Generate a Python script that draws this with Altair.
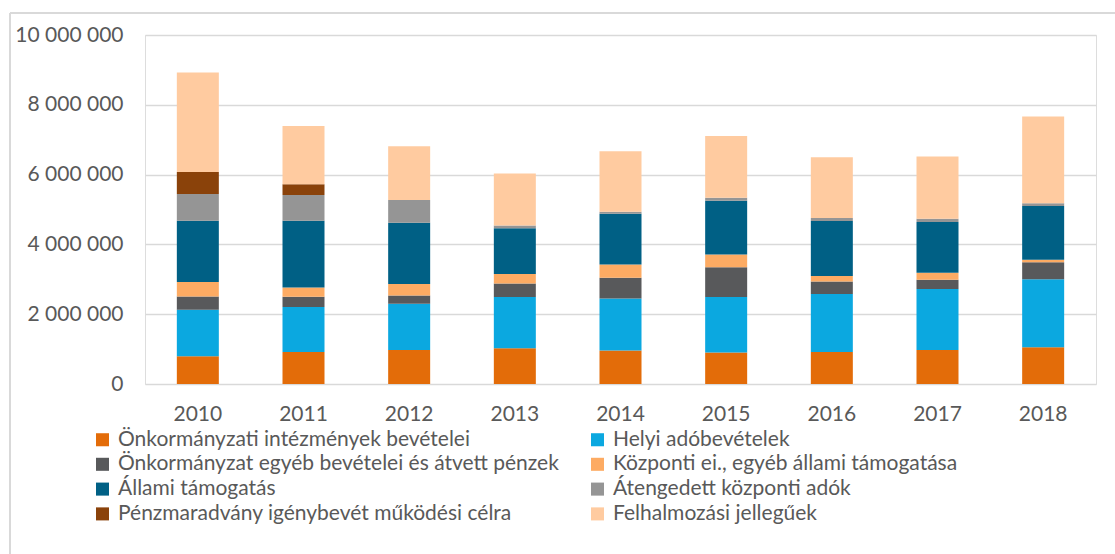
import altair as alt
import pandas as pd

years = ["2010", "2011", "2012", "2013", "2014", "2015", "2016", "2017", "2018"]

series_names = [
    "Önkormányzati intézmények bevételei",
    "Helyi adóbevételek",
    "Önkormányzat egyéb bevételei és átvett pénzek",
    "Központi ei., egyéb állami támogatása",
    "Állami támogatás",
    "Átengedett központi adók",
    "Pénzmaradvány igénybevét működési célra",
    "Felhalmozási jellegűek",
]

onkorm_intezmenyek = [794000, 920000, 977000, 1023000, 957000, 900000, 920000, 977000, 1051000]
helyi_ado = [1335000, 1286000, 1323000, 1469000, 1494000, 1591000, 1657000, 1743000, 1954000]
onkorm_egyeb = [380000, 294000, 237000, 389000, 591000, 857000, 360000, 266000, 486000]
kozponti_ei = [411000, 266000, 326000, 269000, 380000, 360000, 154000, 200000, 66000]
allami_tamogatas = [1760000, 1914000, 1760000, 1314000, 1457000, 1543000, 1580000, 1457000, 1543000]
atengedett_adok = [763000, 734000, 649000, 74000, 57000, 86000, 86000, 94000, 77000]
penzmaradvany = [628000, 306000, 0, 0, 0, 0, 0, 0, 0]
felhalmozasi = [2857000, 1674000, 1543000, 1497000, 1734000, 1771000, 1743000, 1783000, 2486000]

colors = ["#E36C09", "#0BA8E0", "#58595B", "#FDAB63", "#006085", "#959595", "#8A420A", "#FFCBA0"]

y_ticks = [0, 2000000, 4000000, 6000000, 8000000, 10000000]

all_series = [onkorm_intezmenyek, helyi_ado, onkorm_egyeb, kozponti_ei,
              allami_tamogatas, atengedett_adok, penzmaradvany, felhalmozasi]

rows = []
for idx, (name, vals) in enumerate(zip(series_names, all_series)):
    for yr, v in zip(years, vals):
        rows.append({"year": yr, "series": name, "value": v, "idx": idx})
df = pd.DataFrame(rows)

FONT = "Lato"
TXT = "#595959"

bars = alt.Chart(df).mark_bar(size=42).encode(
    x=alt.X("year:N", sort=years, title=None,
            scale=alt.Scale(paddingInner=0.6, paddingOuter=0.3),
            axis=alt.Axis(labelAngle=0, domain=False, ticks=False, labelPadding=19,
                          labelFontSize=21, labelColor=TXT, labelFont=FONT)),
    y=alt.Y("value:Q", stack="zero", title=None,
            scale=alt.Scale(domain=[0, 10000000], nice=False),
            axis=alt.Axis(values=y_ticks, domain=False, ticks=False, labelPadding=22,
                          labelFontSize=21, labelColor=TXT, labelFont=FONT,
                          gridColor="#D9D9D9", gridWidth=1.5,
                          labelExpr="join(split(format(datum.value, ','), ','), ' ')")),
    color=alt.Color("series:N", sort=series_names,
                    scale=alt.Scale(domain=series_names, range=colors),
                    legend=alt.Legend(title=None, orient="none", legendX=-53, legendY=394,
                                      direction="horizontal",
                                      columns=2, columnPadding=28, rowPadding=2.8,
                                      symbolType="square", symbolSize=170,
                                      symbolStrokeWidth=0, symbolOpacity=1,
                                      labelFontSize=21, labelColor=TXT, labelFont=FONT,
                                      labelLimit=700, symbolOffset=0, labelOffset=5)),
    order=alt.Order("idx:Q", sort="ascending"),
)

frame_top = alt.Chart(df).mark_rule(color="#D9D9D9", strokeWidth=1.5).encode(
    x=alt.value(-135), x2=alt.value(990), y=alt.value(-22))
frame_left = alt.Chart(df).mark_rule(color="#D9D9D9", strokeWidth=1.5).encode(
    x=alt.value(-135), y=alt.value(-22), y2=alt.value(540))

chart = alt.layer(bars, frame_top, frame_left).properties(
    width=951, height=349,
    padding={"left": 145, "top": 35, "right": 19, "bottom": 170},
    autosize=alt.AutoSizeParams(type="none"),
).configure_view(stroke=None).configure(background="white")

chart.save("out.html", embed_options={"renderer": "svg", "actions": False})
